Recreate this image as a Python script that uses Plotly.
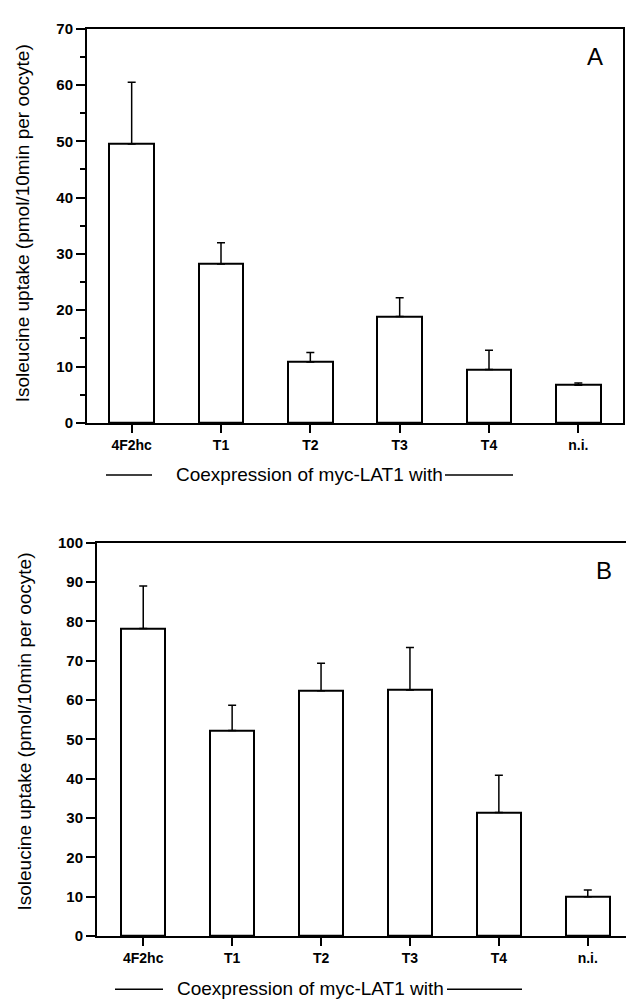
import plotly.graph_objects as go

categories = ["4F2hc", "T1", "T2", "T3", "T4", "n.i."]

uptake_a = [49.5, 28.2, 10.8, 18.9, 9.5, 6.7]
err_a = [11.0, 3.8, 1.7, 3.3, 3.4, 0.4]

uptake_b = [78.2, 52.3, 62.4, 62.6, 31.4, 10.0]
err_b = [10.8, 6.4, 7.0, 10.8, 9.5, 1.7]

yticks_a = [0, 10, 20, 30, 40, 50, 60, 70]
yticks_b = [0, 10, 20, 30, 40, 50, 60, 70, 80, 90, 100]

W, H = 626, 1005
FONT = "Liberation Sans, Arial, Helvetica, sans-serif"


def px_x(p):
    return p / W


def px_y(p):
    return 1 - p / H


fig = go.Figure()

bar_style = dict(
    marker=dict(color="white", line=dict(color="black", width=2)),
    width=0.5,
    showlegend=False,
)

fig.add_trace(go.Bar(
    x=list(range(len(categories))), y=uptake_a,
    error_y=dict(type="data", array=err_a, arrayminus=[0] * len(err_a),
                 symmetric=False, color="black", thickness=1.5, width=4),
    xaxis="x", yaxis="y", **bar_style))

fig.add_trace(go.Bar(
    x=list(range(len(categories))), y=uptake_b,
    error_y=dict(type="data", array=err_b, arrayminus=[0] * len(err_b),
                 symmetric=False, color="black", thickness=1.5, width=4),
    xaxis="x2", yaxis="y2", **bar_style))

xcommon = dict(
    tickmode="array", tickvals=list(range(len(categories))), ticktext=categories,
    ticks="outside", ticklen=8, tickwidth=2, tickcolor="black",
    showline=True, linecolor="black", linewidth=2, mirror=True,
    showgrid=False, zeroline=False,
    tickfont=dict(family=FONT, size=14, color="black", weight="bold"),
    fixedrange=True,
)
ycommon = dict(
    ticks="outside", ticklen=9, tickwidth=1.5, tickcolor="black",
    showline=True, linecolor="black", linewidth=2,
    showgrid=False, zeroline=False,
    tickfont=dict(family=FONT, size=15, color="black", weight="bold"),
    fixedrange=True,
)

fig.update_layout(
    width=W, height=H,
    margin=dict(l=0, r=0, t=0, b=0),
    paper_bgcolor="white", plot_bgcolor="white",
    bargap=0,
    xaxis=dict(domain=[px_x(87), px_x(623)], range=[-0.5, 5.5], anchor="y", **xcommon),
    yaxis=dict(domain=[px_y(421), px_y(20)], range=[0, 70], anchor="x",
               tickvals=yticks_a, mirror=True,
               minor=dict(ticks="outside", ticklen=5, tickwidth=1.5, tickcolor="black", dtick=5),
               **ycommon),
    xaxis2=dict(domain=[px_x(97), 1.0], range=[-0.52, 5.43], anchor="y2", **xcommon),
    yaxis2=dict(domain=[px_y(943), px_y(543)], range=[0, 100], anchor="x2",
                tickvals=yticks_b, mirror=False, **ycommon),
)

ytitle = "Isoleucine uptake (pmol/10min per oocyte)"
annotations = [
    dict(text=ytitle, x=px_x(22), y=px_y(218), xref="paper", yref="paper",
         textangle=-90, showarrow=False, xanchor="center", yanchor="middle",
         font=dict(family=FONT, size=19, color="black")),
    dict(text=ytitle, x=px_x(25), y=px_y(735), xref="paper", yref="paper",
         textangle=-90, showarrow=False, xanchor="center", yanchor="middle",
         font=dict(family=FONT, size=19, color="black")),
    dict(text="A", x=px_x(595), y=px_y(48), xref="paper", yref="paper",
         showarrow=False, xanchor="center", yanchor="middle",
         font=dict(family=FONT, size=24, color="black")),
    dict(text="B", x=px_x(604), y=px_y(571), xref="paper", yref="paper",
         showarrow=False, xanchor="center", yanchor="middle",
         font=dict(family=FONT, size=24, color="black")),
    dict(text="Coexpression of myc-LAT1 with", x=px_x(309), y=px_y(474),
         xref="paper", yref="paper", showarrow=False, xanchor="center", yanchor="middle",
         font=dict(family=FONT, size=19, color="black")),
    dict(text="Coexpression of myc-LAT1 with", x=px_x(310), y=px_y(996),
         xref="paper", yref="paper", showarrow=False, xanchor="center", yanchor="middle",
         font=dict(family=FONT, size=19, color="black")),
]

shapes = []
for (x0, x1, y) in [(106, 152, 474), (445, 513, 474), (115, 163, 997), (447, 522, 997)]:
    shapes.append(dict(type="line", xref="paper", yref="paper",
                       x0=px_x(x0), x1=px_x(x1), y0=px_y(y), y1=px_y(y),
                       line=dict(color="black", width=1.5)))

fig.update_layout(annotations=annotations, shapes=shapes)

fig.write_html("out.html")
